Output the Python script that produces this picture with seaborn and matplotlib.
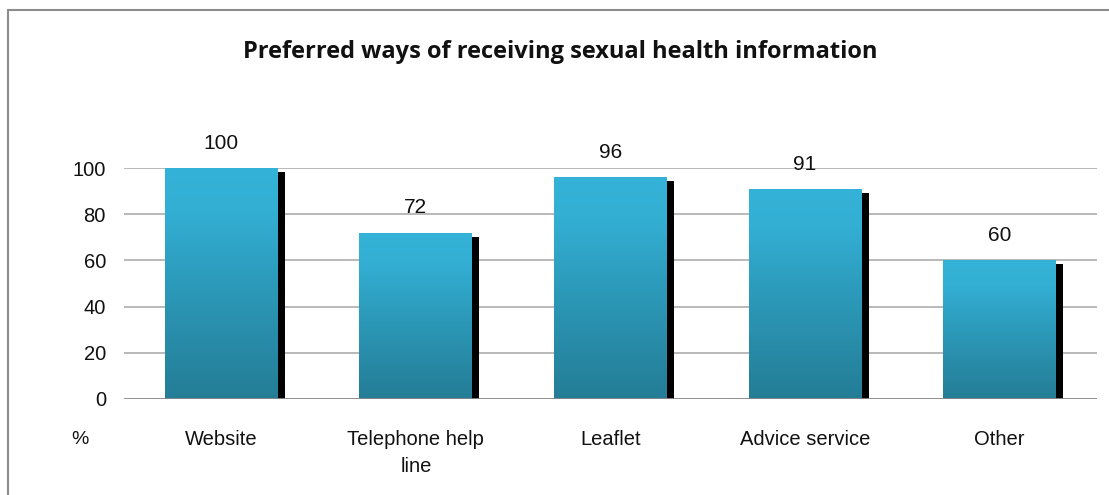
import numpy as np
import pandas as pd
import seaborn as sns
import matplotlib.pyplot as plt
from matplotlib.patches import Rectangle
from matplotlib.colors import LinearSegmentedColormap
import matplotlib.transforms as mtransforms

categories = ["Website", "Telephone help\nline", "Leaflet", "Advice service", "Other"]
values = [100, 72, 96, 91, 60]
yticks = [0, 20, 40, 60, 80, 100]
title = "Preferred ways of receiving sexual health information"

sns.set_theme(style="white")
plt.rcParams['font.family'] = ['Liberation Sans', 'DejaVu Sans']

W, H = 1109, 495
fig = plt.figure(figsize=(W / 100, H / 100), dpi=100)
fig.patch.set_facecolor("white")
ax = fig.add_axes([124 / W, 96 / H, (1097 - 124) / W, (399 - 168) / H])

df = pd.DataFrame({"category": categories, "value": values})
sns.barplot(data=df, x="category", y="value", ax=ax, width=0.58,
            color="#34b0d5", saturation=1, zorder=3, errorbar=None)

# vertical gradient fill and drop shadow for each bar
grad_cmap = LinearSegmentedColormap.from_list(
    "bar_grad", [(0.0, "#247d96"), (0.5, "#2c9aba"), (0.82, "#33afd4"), (1.0, "#35b2d7")])
grad = np.linspace(0, 1, 256).reshape(-1, 1)
shadow_tr = mtransforms.offset_copy(ax.transData, fig=fig, x=7, y=-4, units="dots")
for p in list(ax.patches):
    x0, y0 = p.get_x(), p.get_y()
    w, h = p.get_width(), p.get_height()
    ax.add_patch(Rectangle((x0, y0), w, h, transform=shadow_tr,
                           facecolor="black", edgecolor="none", zorder=2))
    im = ax.imshow(grad, extent=[x0, x0 + w, y0, y0 + h], origin="lower",
                   cmap=grad_cmap, aspect="auto", zorder=3.5)
    im.set_clip_path(p)
    p.set_edgecolor("none")

ax.bar_label(ax.containers[0], labels=[str(v) for v in values], padding=11,
             fontsize=15, color="#111111", zorder=5)

ax.set_xlim(-0.5, len(categories) - 0.5)
ax.set_ylim(0, 100)
ax.set_yticks(yticks)
ax.set_yticklabels([str(t) for t in yticks])
ax.set_xlabel("")
ax.set_ylabel("")

for y in yticks[1:]:
    ax.axhline(y, color="#a6a6a6", lw=1.1, zorder=1)
ax.axhline(0, color="#888888", lw=1.3, zorder=4)

for s in ax.spines.values():
    s.set_visible(False)
ax.tick_params(axis="y", length=0, pad=13, labelsize=14.5, labelcolor="#111111")
ax.tick_params(axis="x", length=0, pad=22, labelsize=14.5, labelcolor="#111111")
for lbl in ax.get_xticklabels():
    lbl.set_linespacing(1.55)
ax.grid(False)

fig.text(80 / W, 1 - 440 / H, "%", ha="center", va="center", fontsize=14, color="#111111")
fig.text(560 / W, 1 - 52 / H, title, ha="center", va="center",
         fontsize=17, fontweight="bold", family=["Open Sans", "DejaVu Sans"], color="#111111")

# chart frame
fig.patches.append(Rectangle((8 / W, -0.1), 1.1, 1 - 10 / H + 0.1, transform=fig.transFigure,
                             facecolor="none", edgecolor="#8c8c8c", lw=1.5, zorder=0))

fig.savefig("out.png", dpi=100)
